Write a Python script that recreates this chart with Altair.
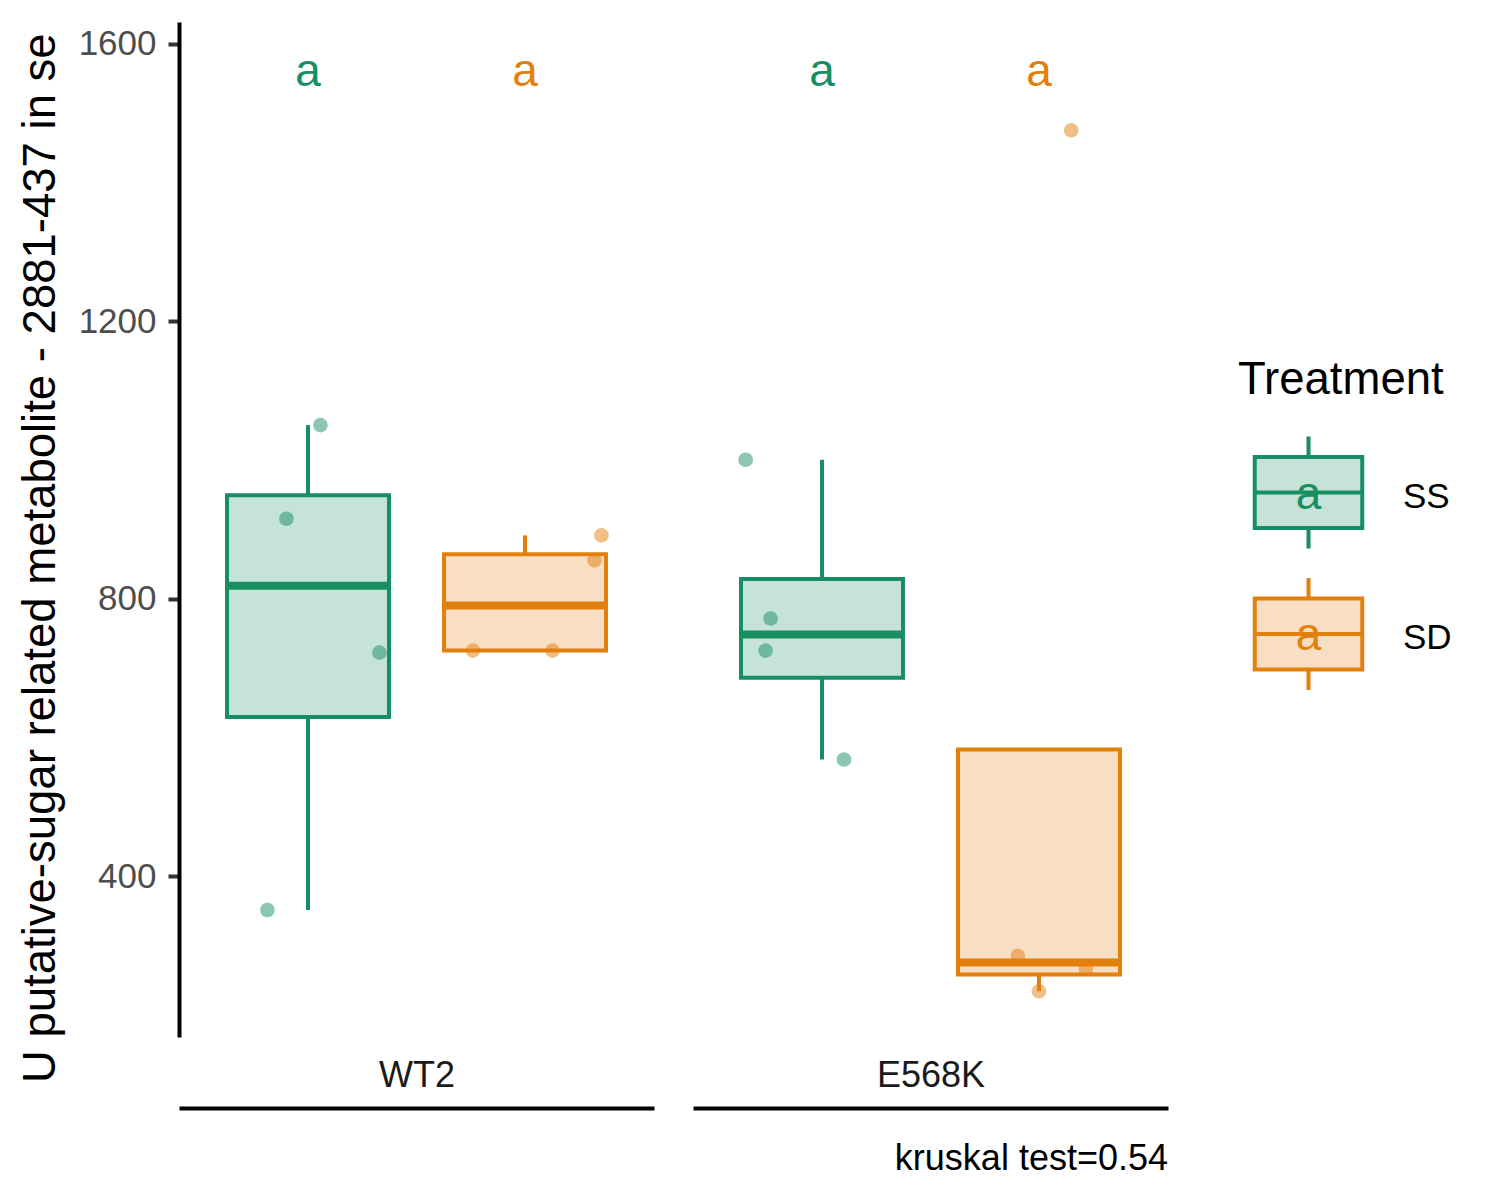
import altair as alt
import numpy as np
import pandas as pd

# ---------------- data ----------------
genotypes = ["WT2", "E568K"]
treatments = ["SS", "SD"]
colors = ["#178F63", "#E2800E"]

# metabolite value of each seed sample
wt2_ss = [1050, 915, 722, 351]
wt2_sd = [725, 725, 855, 891]
e568k_ss = [1000, 771, 725, 568]
e568k_sd = [1475, 285, 266, 234]

# horizontal jitter of each point, as a fraction of the box width
wt2_ss_jit = [0.077, -0.133, 0.441, -0.250]
wt2_sd_jit = [-0.321, 0.170, 0.429, 0.472]
e568k_ss_jit = [-0.471, -0.317, -0.348, 0.136]
e568k_sd_jit = [0.199, -0.130, 0.290, 0.000]

# significance letters above each box
letters = ["a", "a", "a", "a"]
letter_y = 1559

y_ticks = [400, 800, 1200, 1600]
y_domain = [168, 1631]
y_title = "U putative-sugar related metabolite - 2881-437 in seeds"
legend_title = "Treatment"
caption = "kruskal test=0.54"

# ---------------- tables ----------------
groups = [
    ("WT2", "SS", wt2_ss, wt2_ss_jit),
    ("WT2", "SD", wt2_sd, wt2_sd_jit),
    ("E568K", "SS", e568k_ss, e568k_ss_jit),
    ("E568K", "SD", e568k_sd, e568k_sd_jit),
]

pt_rows, st_rows = [], []
for (g, t, vals, jit), let in zip(groups, letters):
    for v, j in zip(vals, jit):
        pt_rows.append({"Genotype": g, "Treatment": t, "value": v, "jitter": j})
    arr = np.array(vals, float)
    q1, med, q3 = np.percentile(arr, [25, 50, 75])
    iqr = q3 - q1
    inside = arr[(arr >= q1 - 1.5 * iqr) & (arr <= q3 + 1.5 * iqr)]
    lo = min(q1, inside.min())
    hi = max(q3, inside.max())
    st_rows.append({"Genotype": g, "Treatment": t, "lo": lo, "q1": q1,
                    "med": med, "q3": q3, "hi": hi, "letter": let,
                    "ly": letter_y})
points_df = pd.DataFrame(pt_rows)
stats_df = pd.DataFrame(st_rows)

FONT = "Liberation Sans"
cscale = alt.Scale(domain=treatments, range=colors)
PW, PH = 475, 1015
BOXW = 162


def panel(g, show_axis):
    pts = points_df[points_df.Genotype == g]
    st = stats_df[stats_df.Genotype == g]
    xenc = alt.X("Treatment:N",
                 scale=alt.Scale(domain=treatments, paddingInner=0.253,
                                 paddingOuter=0.221),
                 axis=None)
    yscale = alt.Scale(domain=y_domain, nice=False, zero=False)
    if show_axis:
        yaxis = alt.Axis(values=y_ticks, format="d", grid=False, domain=True,
                         domainColor="black", domainWidth=4,
                         ticks=True, tickColor="#333333", tickWidth=4,
                         tickSize=11, labelPadding=12, labelFontSize=35,
                         labelColor="#4D4D4D", labelFont=FONT, title=None)
    else:
        yaxis = None

    def Y(field):
        return alt.Y(f"{field}:Q", scale=yscale, axis=yaxis, title=None)

    col = alt.Color("Treatment:N", scale=cscale, legend=None)

    pts_layer = alt.Chart(pts).mark_circle(size=215, opacity=0.5).encode(
        x=xenc,
        xOffset=alt.XOffset("jitter:Q",
                            scale=alt.Scale(domain=[-0.5, 0.5], range=[0, BOXW])),
        y=Y("value"),
        color=col,
    )
    box = alt.Chart(st).mark_bar(width=BOXW, fillOpacity=0.25, strokeWidth=4,
                                 opacity=1).encode(
        x=xenc,
        y=Y("q1"),
        y2="q3:Q",
        fill=alt.Fill("Treatment:N", scale=cscale, legend=None),
        stroke=alt.Stroke("Treatment:N", scale=cscale, legend=None),
    )
    wlo = alt.Chart(st).mark_rule(strokeWidth=4).encode(
        x=xenc, y=Y("lo"), y2="q1:Q", color=col)
    whi = alt.Chart(st).mark_rule(strokeWidth=4).encode(
        x=xenc, y=Y("q3"), y2="hi:Q", color=col)
    med = alt.Chart(st).mark_tick(thickness=8, size=BOXW + 2, opacity=1).encode(
        x=xenc, y=Y("med"), color=col)
    let = alt.Chart(st).mark_text(fontSize=46, font=FONT, baseline="middle").encode(
        x=xenc, y=Y("ly"), text="letter:N", color=col)

    layers = [pts_layer, box, wlo, whi, med, let]
    if show_axis:
        # y title, cut at the top of the page as in the reference
        ttl = alt.Chart(pd.DataFrame({"t": [y_title]})).mark_text(
            angle=270, align="left", baseline="alphabetic", fontSize=45.5,
            font=FONT, color="black", limit=1060, ellipsis="\u200b").encode(
            x=alt.value(-124.4), y=alt.value(1061), text="t:N")
        layers.append(ttl)
    return alt.layer(*layers).properties(width=PW, height=PH)


def strip(g, with_caption=False):
    df = pd.DataFrame({"Genotype": [g]})
    base = alt.Chart(df).mark_point(opacity=0).encode(
        x=alt.X("Genotype:N",
                axis=alt.Axis(orient="top", title=None, ticks=False,
                              domain=True, domainColor="black", domainWidth=4,
                              labelFontSize=36, labelColor="#1A1A1A",
                              labelFont=FONT, labelAngle=0,
                              labelBaseline="alphabetic", labelPadding=22)),
    )
    layers = [base]
    if with_caption:
        cap = alt.Chart(pd.DataFrame({"c": [caption]})).mark_text(
            align="right", baseline="alphabetic", fontSize=36, font=FONT,
            color="black").encode(
            x=alt.value(PW), y=alt.value(61.5), text="c:N")
        layers.append(cap)
    return alt.layer(*layers).properties(width=PW, height=1)


# manual legend (box glyph with the letter, as in the reference)
legend_df = pd.DataFrame({"Treatment": treatments, "letter": ["a", "a"]})
ly = alt.Y("Treatment:N",
           scale=alt.Scale(type="point", domain=treatments, range=[470.5, 612],
                           padding=0),
           axis=None)
glyph_path = ("M-1,-0.66H1V0.66H-1Z M0,-0.66V-1.042 M0,0.66V1.042 M-1,0H1")
leg_glyph = alt.Chart(legend_df).mark_point(
    shape=glyph_path, size=11556, filled=True, fillOpacity=0.25,
    strokeWidth=4, opacity=1).encode(
    x=alt.value(101.5), y=ly,
    fill=alt.Fill("Treatment:N", scale=cscale, legend=None),
    stroke=alt.Stroke("Treatment:N", scale=cscale, legend=None))
leg_letter = alt.Chart(legend_df).mark_text(
    fontSize=46, font=FONT, baseline="middle", dy=2).encode(
    x=alt.value(101.5), y=ly, text="letter:N",
    color=alt.Color("Treatment:N", scale=cscale, legend=None))
leg_label = alt.Chart(legend_df).mark_text(
    fontSize=35, font=FONT, baseline="middle", align="left", dy=4,
    color="black").encode(
    x=alt.value(196), y=ly, text="Treatment:N")
leg_title = alt.Chart(pd.DataFrame({"t": [legend_title]})).mark_text(
    fontSize=45.5, font=FONT, baseline="alphabetic", align="left",
    color="black").encode(
    x=alt.value(31), y=alt.value(371.5), text="t:N")
legend = alt.layer(leg_glyph, leg_letter, leg_label, leg_title).properties(
    width=260, height=PH)

chart = alt.concat(
    panel("WT2", True), panel("E568K", False), legend,
    strip("WT2"), strip("E568K", True),
    columns=3, spacing={"row": 71, "column": 39}, bounds="flush", align="each",
).resolve_scale(x="independent", y="independent").properties(
    padding={"left": 10, "top": 14, "right": 5, "bottom": 5},
    background="white",
).configure(font=FONT).configure_view(strokeWidth=0)

chart.save("out.html", embed_options={"renderer": "svg", "actions": False})
